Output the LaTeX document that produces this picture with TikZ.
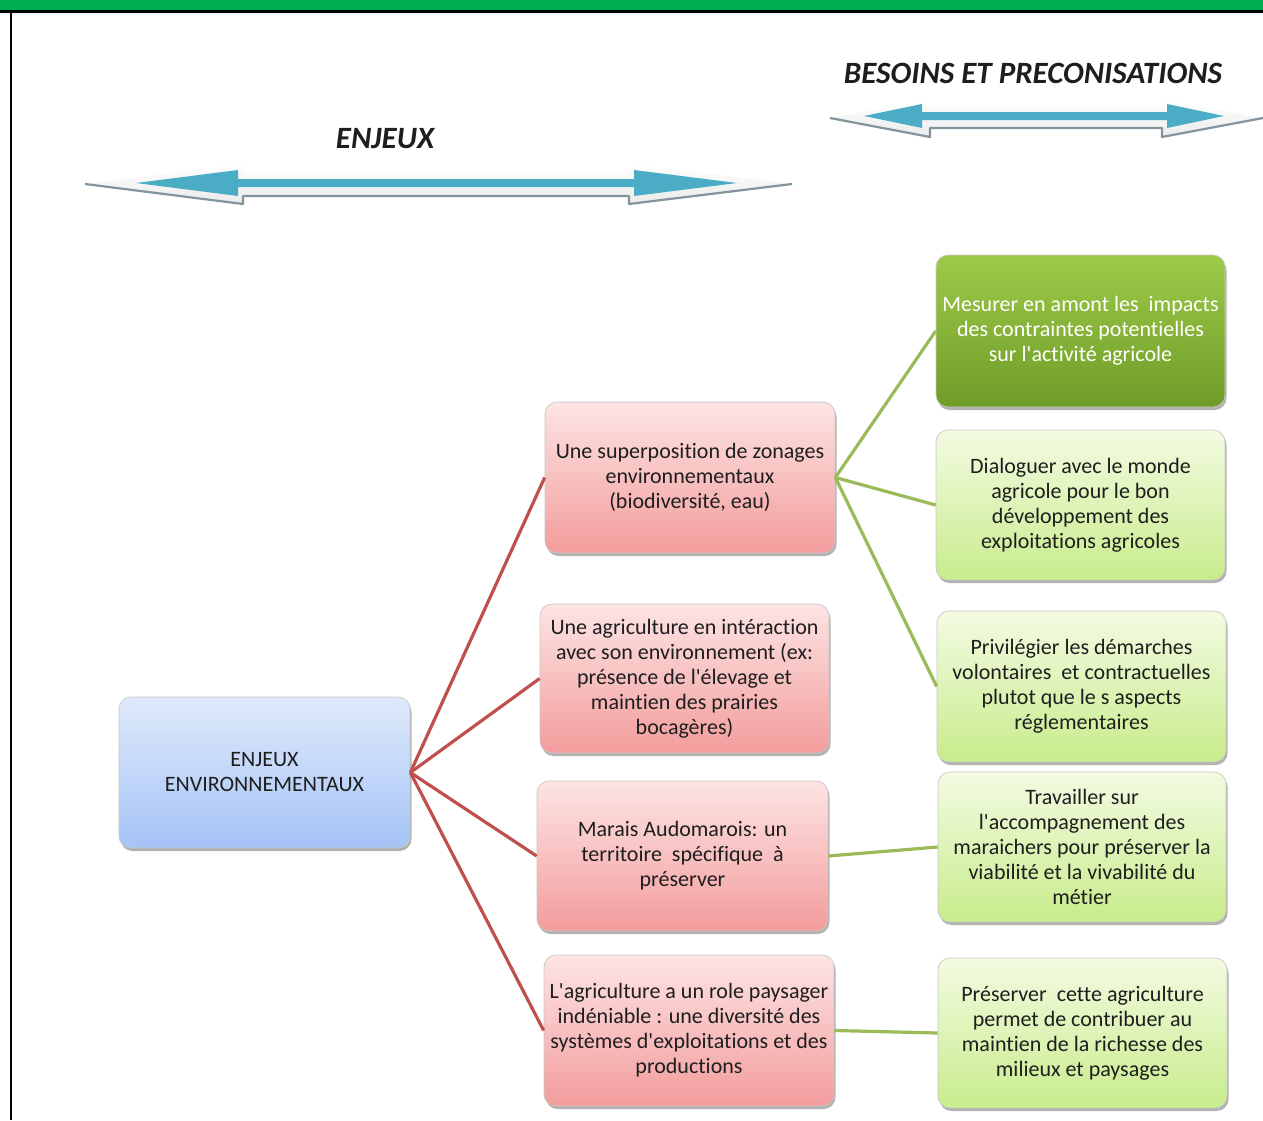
\documentclass[tikz,border=0pt]{standalone}
\usepackage{fontspec}
\setmainfont{Carlito}[Ligatures={TeXOff,NoCommon}]
\usetikzlibrary{shadows}
\definecolor{redline}{HTML}{C0504D}
\definecolor{greenline}{HTML}{9BBB59}
\definecolor{arrowblue}{HTML}{4BACC6}
\definecolor{barGreen}{HTML}{00B050}
\definecolor{txt}{HTML}{1E1E1E}
\tikzset{
  boxbase/.style={rounded corners=12pt, inner sep=0pt, align=center, text=txt,
    draw=black!22, line width=0.7pt,
    font=\fontsize{22}{25}\selectfont,
    drop shadow={shadow xshift=1.5pt, shadow yshift=-3pt, fill=black, opacity=0.3}},
  bluebox/.style={boxbase, top color={rgb,255:red,224;green,234;blue,251}, bottom color={rgb,255:red,164;green,195;blue,246}},
  pinkbox/.style={boxbase, top color={rgb,255:red,253;green,228;blue,228}, bottom color={rgb,255:red,243;green,156;blue,156}},
  lgbox/.style={boxbase, top color={rgb,255:red,243;green,251;blue,226}, bottom color={rgb,255:red,200;green,236;blue,140}},
  dgbox/.style={boxbase, text=white, top color={rgb,255:red,158;green,202;blue,72}, bottom color={rgb,255:red,110;green,156;blue,40}},
  redlink/.style={draw=redline, line width=3.2pt},
  greenlink/.style={draw=greenline, line width=3.2pt},
  title/.style={font=\fontsize{31}{34}\selectfont\bfseries\itshape, text=txt},
  arrowframe/.style={top color=white, bottom color=black!8, draw=none},
  arrowshadow/.style={draw={rgb,255:red,130;green,148;blue,156}, line width=2.2pt, line join=round},
  arrowcore/.style={fill=arrowblue, draw=none}
}
\begin{document}
\begin{tikzpicture}[x=1pt,y=-1pt]
\useasboundingbox (0,0) rectangle (1263,1120);
\fill[white] (0,0) rectangle (1263,1120);
% top bar and border
\fill[barGreen] (0,0) rectangle (1263,10);
\fill[black] (0,10) rectangle (1263,12.5);
\fill[black] (9.5,10) rectangle (12,1120);

% titles
\node[title] (t1) at (385,139) {ENJEUX};
\node[title] (t2) at (1033,73) {BESOINS ET PRECONISATIONS};

% left double arrow
\path[arrowframe] (85,184) -- (243,164) -- (243,173) -- (629,173) -- (629,164) -- (792,184)
  -- (629,204) -- (629,196) -- (243,196) -- (243,204) -- cycle;
\draw[arrowshadow] (85,184) -- (243,204) -- (243,196) -- (629,196) -- (629,204) -- (792,184);
\path[arrowcore] (136,183) -- (238,170) -- (238,179) -- (634,179) -- (634,170) -- (737,183)
  -- (634,196) -- (634,187) -- (238,187) -- (238,196) -- cycle;

% right double arrow
\path[arrowframe] (830,118) -- (930,100) -- (930,108) -- (1162,108) -- (1162,100) -- (1263,118)
  -- (1162,137) -- (1162,128) -- (930,128) -- (930,137) -- cycle;
\draw[arrowshadow] (830,118) -- (930,137) -- (930,128) -- (1162,128) -- (1162,137) -- (1263,118);
\path[arrowcore] (864,116) -- (922,104) -- (922,112) -- (1167,112) -- (1167,104) -- (1224,116)
  -- (1167,128) -- (1167,120) -- (922,120) -- (922,128) -- cycle;

% boxes
\node[bluebox, minimum width=291pt, minimum height=151pt] (root) at (264.5,772.5)
  {ENJEUX\\ENVIRONNEMENTAUX};

\node[pinkbox, minimum width=290pt, minimum height=151pt] (p1) at (690,477.5)
  {Une superposition de zonages\\environnementaux\\(biodiversité, eau)};
\node[pinkbox, minimum width=289pt, minimum height=149pt] (p2) at (684.5,678.5)
  {Une agriculture en intéraction\\avec son environnement (ex:\\présence de l'élevage et\\maintien des prairies\\bocagères)};
\node[pinkbox, minimum width=291pt, minimum height=150pt] (p3) at (682.5,856)
  {Marais Audomarois: un\\territoire\ \ spécifique\ \ à\\préserver};
\node[pinkbox, minimum width=290pt, minimum height=151pt] (p4) at (689,1030.5)
  {L'agriculture a un role paysager\\indéniable : une diversité des\\systèmes d'exploitations et des\\productions};

\node[dgbox, minimum width=289pt, minimum height=152pt] (g1) at (1080.5,331)
  {Mesurer en amont les\ \ impacts\\des contraintes potentielles\\sur l'activité agricole};
\node[lgbox, minimum width=289pt, minimum height=150pt] (g2) at (1080.5,505)
  {Dialoguer avec le monde\\agricole pour le bon\\développement des\\exploitations agricoles};
\node[lgbox, minimum width=289pt, minimum height=151pt] (g3) at (1081.5,686.5)
  {Privilégier les démarches\\volontaires\ \ et contractuelles\\plutot que le s aspects\\réglementaires};
\node[lgbox, minimum width=288pt, minimum height=150pt] (g4) at (1082,847)
  {Travailler sur\\l'accompagnement des\\maraichers pour préserver la\\viabilité et la vivabilité du\\métier};
\node[lgbox, minimum width=289pt, minimum height=150pt] (g5) at (1082.5,1033)
  {Préserver\ \ cette agriculture\\permet de contribuer au\\maintien de la richesse des\\milieux et paysages};

% connectors
\draw[redlink] (root.east) -- (p1.west);
\draw[redlink] (root.east) -- (p2.west);
\draw[redlink] (root.east) -- (p3.west);
\draw[redlink] (root.east) -- (p4.west);
\draw[greenlink] (p1.east) -- (g1.west);
\draw[greenlink] (p1.east) -- (g2.west);
\draw[greenlink] (p1.east) -- (g3.west);
\draw[greenlink] (p3.east) -- (g4.west);
\draw[greenlink] (p4.east) -- (g5.west);
\end{tikzpicture}
\end{document}
